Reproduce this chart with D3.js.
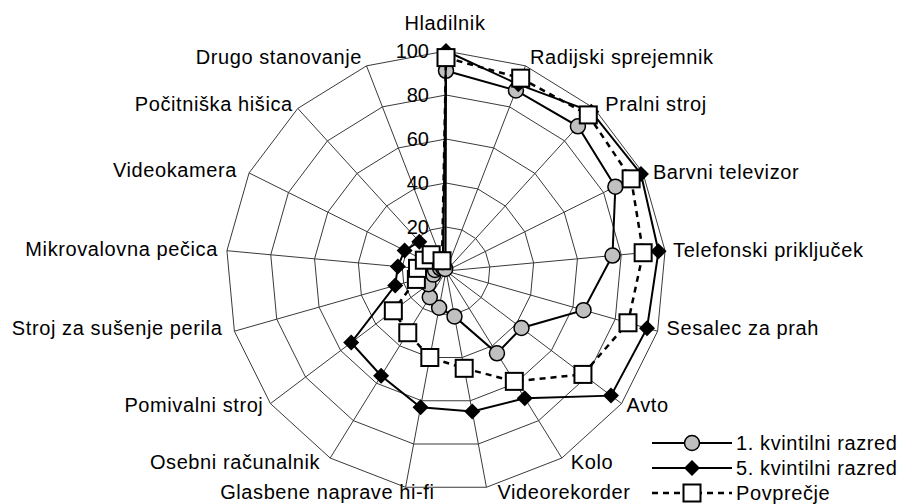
<!DOCTYPE html>
<html><head><meta charset="utf-8">
<script src="https://cdn.jsdelivr.net/npm/d3@7"></script>
<style>
body{margin:0;background:#fff}
svg{display:block}
text{font-family:"Liberation Sans",Arial,sans-serif;fill:#000}
</style>
</head><body>
<svg id="chart" width="901" height="504"></svg>
<script>
const categories = ["Hladilnik","Radijski sprejemnik","Pralni stroj","Barvni televizor","Telefonski priključek","Sesalec za prah","Avto","Kolo","Videorekorder","Glasbene naprave hi-fi","Osebni računalnik","Pomivalni stroj","Stroj za sušenje perila","Mikrovalovna pečica","Videokamera","Počitniška hišica","Drugo stanovanje"];
const quintile1 = [91,88,89,86,76,65,43,44,21,17,14,10,6,5,3,2,1];
const quintile5 = [100,91,98,99,97,95,94,68,65,63,56,54,24,22,21,18,4];
const average = [97,94,96,94,90,86,78,59,45,40,33,30,14,13,11,10,5];
const tickValues = [0,20,40,60,80,100];
const seriesNames = ["1. kvintilni razred","5. kvintilni razred","Povprečje"];

// layout (not data)
const cx = 446, cy = 271, R = 220;
const labelOffsets = [[-1,-28,"middle"],[4.5,-9,"start"],[11,-5,"start"],[10,-1,"start"],[8,-1,"start"],[9,-3,"start"],[5,1,"start"],[9,4,"start"],[11,5,"start"],[29,5,"end"],[-10,4,"end"],[-7,1,"end"],[-12,-3,"end"],[-9,-2,"end"],[-12,-3,"end"],[-5,-5,"end"],[-4.5,-9,"end"]];

const svg = d3.select("#chart");
const n = categories.length;
const rScale = d3.scaleLinear().domain([0,100]).range([0,R]);
const aScale = d3.scaleLinear().domain([0,n]).range([0,2*Math.PI]);
const pt = (i,v) => [cx + rScale(v)*Math.sin(aScale(i)), cy - rScale(v)*Math.cos(aScale(i))];

const g = svg.append("g");
tickValues.filter(t=>t>0).forEach(t=>{
  g.append("path")
    .attr("d", d3.line()(d3.range(n).map(i=>pt(i,t))) + "Z")
    .attr("fill","none").attr("stroke","#3a3a3a").attr("stroke-width",1);
});
d3.range(n).forEach(i=>{
  const [x,y] = pt(i,100);
  g.append("line").attr("x1",cx).attr("y1",cy).attr("x2",x).attr("y2",y)
    .attr("stroke","#3a3a3a").attr("stroke-width",1);
});
g.selectAll("text.tick").data(tickValues).join("text")
  .attr("class","tick")
  .attr("x", cx-17).attr("y", d=>cy - rScale(d))
  .attr("dy","0.36em").attr("text-anchor","end")
  .style("font-size","20px").text(d=>d);
g.selectAll("text.cat").data(categories).join("text")
  .attr("class","cat")
  .attr("x",(d,i)=>pt(i,100)[0]+labelOffsets[i][0])
  .attr("y",(d,i)=>pt(i,100)[1]+labelOffsets[i][1])
  .attr("dy","0.36em").attr("text-anchor",(d,i)=>labelOffsets[i][2])
  .style("font-size","20px").style("letter-spacing","0.6px").text(d=>d);

const lineGen = d3.line();
function drawSeries(vals, dash, marker){
  const pts = vals.map((v,i)=>pt(i,v));
  const path = g.append("path").attr("d", lineGen(pts)+"Z")
    .attr("fill","none").attr("stroke","#000")
    .attr("stroke-width", dash ? 2.5 : 2);
  if(dash) path.attr("stroke-dasharray", dash);
  pts.forEach(p=>marker(g,p[0],p[1]));
}
const circleMarker = (sel,x,y)=>sel.append("circle").attr("cx",x).attr("cy",y).attr("r",7.5)
  .attr("fill","#c0c0c0").attr("stroke","#000").attr("stroke-width",1.5);
const diamondMarker = (sel,x,y)=>sel.append("path")
  .attr("d",`M${x},${y-8}L${x+8},${y}L${x},${y+8}L${x-8},${y}Z`).attr("fill","#000");
const squareMarker = (sel,x,y)=>sel.append("rect").attr("x",x-8.5).attr("y",y-8.5).attr("width",17).attr("height",17)
  .attr("fill","#fff").attr("stroke","#000").attr("stroke-width",2);

drawSeries(quintile1, null, circleMarker);
drawSeries(quintile5, null, diamondMarker);
drawSeries(average, "6 5", squareMarker);

const legendRows = [
  {name: seriesNames[0], dash:null, marker:circleMarker},
  {name: seriesNames[1], dash:null, marker:diamondMarker},
  {name: seriesNames[2], dash:"6 5", marker:squareMarker}
];
const lg = svg.append("g");
legendRows.forEach((r,i)=>{
  const y = 443 + i*25;
  const l = lg.append("line").attr("x1",652).attr("x2",732).attr("y1",y).attr("y2",y)
    .attr("stroke","#000").attr("stroke-width", r.dash?2.5:2);
  if(r.dash) l.attr("stroke-dasharray", r.dash);
  r.marker(lg,692,y);
  lg.append("text").attr("x",736).attr("y",y).attr("dy","0.36em")
    .style("font-size","20px").style("letter-spacing","0.6px").text(r.name);
});
</script>
</body></html>
